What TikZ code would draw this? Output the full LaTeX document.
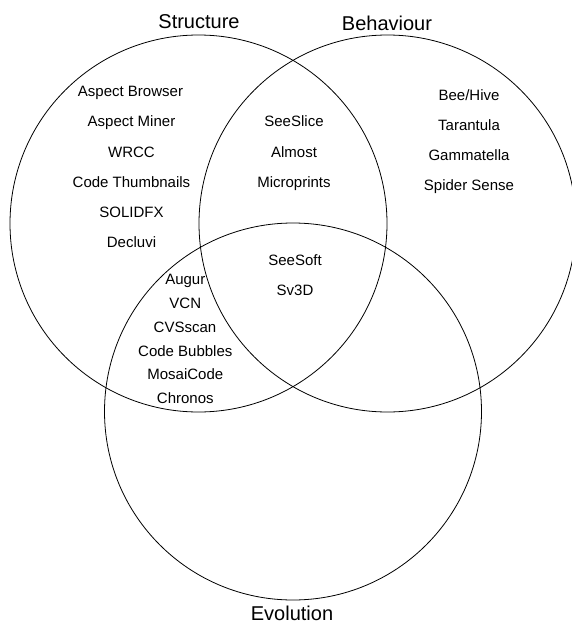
\documentclass[tikz,border=0pt]{standalone}
\usepackage{fontspec}
\setmainfont{Liberation Sans}
\begin{document}
\begin{tikzpicture}[x=1pt,y=-1pt,
  setcircle/.style={circle,draw,line width=0.8pt,minimum size=377pt,inner sep=0pt},
  item/.style={anchor=base,inner sep=0pt,font=\fontsize{15}{18}\selectfont},
  setlabel/.style={anchor=base,inner sep=0pt,font=\fontsize{20}{24}\selectfont}]
\useasboundingbox (0,0) rectangle (572,623);
\clip (0,0) rectangle (572,623);
\node[setcircle] (S) at (198.5,223.5) {};
\node[setcircle] (B) at (387.5,223.5) {};
\node[setcircle] (E) at (293,411.5) {};
\node[setlabel] (lS) at (199,29) {Structure};
\node[setlabel] (lB) at (387,30.5) {Behaviour};
\node[setlabel] (lE) at (292,620) {Evolution};
% Structure only
\node[item] (s1) at (130.5,96.4) {Aspect Browser};
\node[item] (s2) at (131.5,127) {Aspect Miner};
\node[item] (s3) at (131.5,157) {WRCC};
\node[item] (s4) at (131.5,187) {Code Thumbnails};
\node[item] (s5) at (131.5,217.4) {SOLIDFX};
\node[item] (s6) at (131.5,247.7) {Decluvi};
% Structure and Behaviour
\node[item] (sb1) at (294,127) {SeeSlice};
\node[item] (sb2) at (294,157) {Almost};
\node[item] (sb3) at (294,187) {Microprints};
% Behaviour only
\node[item] (b1) at (469,100.4) {Bee/Hive};
\node[item] (b2) at (469,130.4) {Tarantula};
\node[item] (b3) at (469,160.7) {Gammatella};
\node[item] (b4) at (469,190.7) {Spider Sense};
% all three
\node[item] (a1) at (295,265.4) {SeeSoft};
\node[item] (a2) at (295,295.4) {Sv3D};
% Structure and Evolution
\node[item] (se1) at (185.3,284.4) {Augur};
\node[item] (se2) at (185.3,308.4) {VCN};
\node[item] (se3) at (185,332.2) {CVSscan};
\node[item] (se4) at (185.3,356.1) {Code Bubbles};
\node[item] (se5) at (185.3,379.9) {MosaiCode};
\node[item] (se6) at (185.3,403.7) {Chronos};
\end{tikzpicture}
\end{document}
